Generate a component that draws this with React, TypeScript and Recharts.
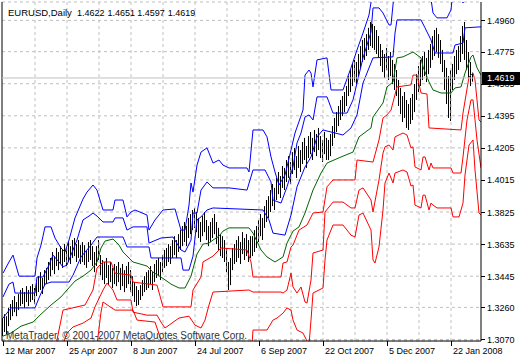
import React from "react";
import { ComposedChart, Bar, Line, XAxis, YAxis, CartesianGrid, ReferenceLine } from "recharts";

const symbolTitle = "EURUSD,Daily";
const lastQuote = [1.4622, 1.4651, 1.4597, 1.4619];
const watermark = "MetaTrader, © 2001-2007 MetaQuotes Software Corp.";

const dateLabels = ["12 Mar 2007", "25 Apr 2007", "8 Jun 2007", "24 Jul 2007", "6 Sep 2007", "22 Oct 2007", "5 Dec 2007", "22 Jan 2008"];
const labelDays = [0, 32, 64, 96, 128, 160, 192, 224];
const gridDays = [16, 32, 48, 64, 80, 96, 112, 128, 144, 160, 176, 192, 208, 224];
const priceTicks = [1.307, 1.326, 1.3445, 1.3635, 1.3825, 1.4015, 1.4205, 1.4395, 1.4585, 1.4775, 1.496];

// daily highs / lows, one per bar
const highs = [
  1.3197, 1.3220, 1.3208, 1.3257, 1.3280, 1.3304, 1.3327, 1.3292, 1.3339, 1.3363,
  1.3375, 1.3351, 1.3386, 1.3363, 1.3386, 1.3398, 1.3375, 1.3422, 1.3445, 1.3469,
  1.3434, 1.3481, 1.3494, 1.3529, 1.3553, 1.3588, 1.3564, 1.3612, 1.3588, 1.3623,
  1.3600, 1.3635, 1.3612, 1.3647, 1.3623, 1.3659, 1.3671, 1.3635, 1.3659, 1.3629,
  1.3647, 1.3629, 1.3600, 1.3647, 1.3659, 1.3623, 1.3588, 1.3623, 1.3659, 1.3570,
  1.3541, 1.3529, 1.3553, 1.3511, 1.3529, 1.3494, 1.3517, 1.3505, 1.3529, 1.3494,
  1.3517, 1.3481, 1.3505, 1.3529, 1.3481, 1.3445, 1.3410, 1.3386, 1.3363, 1.3392,
  1.3422, 1.3445, 1.3469, 1.3481, 1.3505, 1.3469, 1.3517, 1.3541, 1.3553, 1.3529,
  1.3570, 1.3600, 1.3612, 1.3635, 1.3623, 1.3659, 1.3682, 1.3659, 1.3694, 1.3718,
  1.3742, 1.3766, 1.3742, 1.3790, 1.3813, 1.3837, 1.3849, 1.3825, 1.3790, 1.3766,
  1.3801, 1.3825, 1.3778, 1.3742, 1.3766, 1.3790, 1.3813, 1.3766, 1.3731, 1.3694,
  1.3682, 1.3659, 1.3612, 1.3529, 1.3553, 1.3612, 1.3635, 1.3659, 1.3682, 1.3647,
  1.3706, 1.3671, 1.3694, 1.3659, 1.3682, 1.3682, 1.3718, 1.3742, 1.3778, 1.3813,
  1.3790, 1.3860, 1.3896, 1.3919, 1.3955, 1.3991, 1.3968, 1.4027, 1.4062, 1.4038,
  1.4097, 1.4086, 1.4133, 1.4156, 1.4121, 1.4180, 1.4205, 1.4156, 1.4216, 1.4192,
  1.4240, 1.4264, 1.4216, 1.4275, 1.4299, 1.4264, 1.4311, 1.4287, 1.4323, 1.4275,
  1.4252, 1.4299, 1.4264, 1.4252, 1.4287, 1.4334, 1.4382, 1.4417, 1.4453, 1.4489,
  1.4512, 1.4536, 1.4571, 1.4630, 1.4666, 1.4702, 1.4726, 1.4714, 1.4761, 1.4808,
  1.4844, 1.4856, 1.4879, 1.4916, 1.4951, 1.4939, 1.4927, 1.4903, 1.4867, 1.4820,
  1.4785, 1.4761, 1.4797, 1.4749, 1.4773, 1.4726, 1.4702, 1.4666, 1.4607, 1.4560,
  1.4512, 1.4536, 1.4489, 1.4465, 1.4501, 1.4524, 1.4583, 1.4642, 1.4690, 1.4726,
  1.4749, 1.4773, 1.4738, 1.4785, 1.4820, 1.4867, 1.4903, 1.4916, 1.4879, 1.4844,
  1.4785, 1.4726, 1.4679, 1.4630, 1.4666, 1.4702, 1.4749, 1.4785, 1.4808, 1.4867,
  1.4927, 1.4951, 1.4844, 1.4773, 1.4714, 1.4651,
];
const lows = [
  1.3090, 1.3114, 1.3102, 1.3149, 1.3185, 1.3208, 1.3232, 1.3208, 1.3244, 1.3268,
  1.3280, 1.3257, 1.3292, 1.3268, 1.3292, 1.3304, 1.3280, 1.3327, 1.3351, 1.3363,
  1.3339, 1.3386, 1.3398, 1.3422, 1.3445, 1.3481, 1.3457, 1.3505, 1.3481, 1.3517,
  1.3494, 1.3529, 1.3505, 1.3529, 1.3517, 1.3553, 1.3564, 1.3529, 1.3553, 1.3517,
  1.3529, 1.3511, 1.3494, 1.3529, 1.3541, 1.3505, 1.3469, 1.3505, 1.3541, 1.3451,
  1.3422, 1.3398, 1.3434, 1.3392, 1.3410, 1.3375, 1.3398, 1.3386, 1.3410, 1.3363,
  1.3386, 1.3351, 1.3375, 1.3398, 1.3351, 1.3327, 1.3292, 1.3268, 1.3274, 1.3304,
  1.3327, 1.3351, 1.3363, 1.3375, 1.3398, 1.3363, 1.3410, 1.3434, 1.3445, 1.3422,
  1.3469, 1.3494, 1.3505, 1.3529, 1.3517, 1.3553, 1.3570, 1.3553, 1.3588, 1.3600,
  1.3623, 1.3647, 1.3623, 1.3671, 1.3694, 1.3718, 1.3731, 1.3706, 1.3671, 1.3647,
  1.3682, 1.3706, 1.3659, 1.3623, 1.3647, 1.3671, 1.3694, 1.3635, 1.3600, 1.3564,
  1.3553, 1.3529, 1.3469, 1.3363, 1.3392, 1.3481, 1.3517, 1.3529, 1.3553, 1.3517,
  1.3576, 1.3541, 1.3564, 1.3529, 1.3553, 1.3564, 1.3588, 1.3612, 1.3647, 1.3682,
  1.3659, 1.3731, 1.3766, 1.3790, 1.3825, 1.3860, 1.3837, 1.3896, 1.3931, 1.3908,
  1.3968, 1.3955, 1.4003, 1.4027, 1.3991, 1.4050, 1.4074, 1.4027, 1.4086, 1.4062,
  1.4109, 1.4133, 1.4086, 1.4145, 1.4168, 1.4133, 1.4180, 1.4156, 1.4192, 1.4145,
  1.4121, 1.4168, 1.4133, 1.4133, 1.4156, 1.4216, 1.4264, 1.4299, 1.4334, 1.4370,
  1.4393, 1.4417, 1.4453, 1.4512, 1.4536, 1.4571, 1.4595, 1.4583, 1.4630, 1.4679,
  1.4714, 1.4726, 1.4749, 1.4785, 1.4808, 1.4797, 1.4785, 1.4761, 1.4738, 1.4690,
  1.4654, 1.4619, 1.4666, 1.4607, 1.4630, 1.4583, 1.4548, 1.4512, 1.4453, 1.4405,
  1.4358, 1.4382, 1.4323, 1.4311, 1.4346, 1.4370, 1.4417, 1.4489, 1.4536, 1.4571,
  1.4607, 1.4630, 1.4595, 1.4642, 1.4679, 1.4726, 1.4749, 1.4773, 1.4738, 1.4702,
  1.4654, 1.4548, 1.4465, 1.4382, 1.4364, 1.4548, 1.4607, 1.4642, 1.4666, 1.4714,
  1.4761, 1.4726, 1.4666, 1.4619, 1.4571, 1.4597,
];

// indicator vertices: [bar index, price]
const maLine = [
  [0, 1.3090], [4, 1.3108], [9, 1.3149], [15, 1.3173], [19, 1.3220], [24, 1.3274], [29, 1.3322], [32, 1.3363],
  [36, 1.3416], [40, 1.3445], [44, 1.3481], [47, 1.3529], [49, 1.3612], [51, 1.3653], [55, 1.3665], [58, 1.3629],
  [60, 1.3588], [65, 1.3529], [72, 1.3505], [75, 1.3469], [79, 1.3440], [84, 1.3398], [88, 1.3375], [91, 1.3375],
  [94, 1.3445], [97, 1.3576], [100, 1.3635], [103, 1.3641], [105, 1.3659], [108, 1.3682], [110, 1.3712], [113, 1.3731],
  [123, 1.3731], [125, 1.3700], [129, 1.3600], [132, 1.3559], [136, 1.3529], [140, 1.3559], [142, 1.3641], [145, 1.3712],
  [148, 1.3737], [151, 1.3819], [155, 1.3955], [159, 1.4056], [162, 1.4115], [169, 1.4151], [175, 1.4180], [178, 1.4270],
  [184, 1.4323], [185, 1.4388], [190, 1.4471], [192, 1.4566], [195, 1.4595], [197, 1.4738], [200, 1.4744], [204, 1.4767],
  [205, 1.4773], [209, 1.4738], [210, 1.4685], [213, 1.4595], [215, 1.4548], [219, 1.4530], [224, 1.4530], [226, 1.4560],
  [229, 1.4566], [231, 1.4648], [234, 1.4744], [235, 1.4755], [237, 1.4679], [239, 1.4636],
];
const upperBand1 = [
  [0, 1.3463], [3, 1.3529], [5, 1.3570], [6, 1.3529], [8, 1.3445], [16, 1.3445], [17, 1.3553], [19, 1.3629],
  [20, 1.3682], [21, 1.3737], [24, 1.3737], [26, 1.3671], [29, 1.3612], [31, 1.3588], [33, 1.3659], [36, 1.3790],
  [40, 1.3902], [42, 1.3943], [45, 1.3985], [47, 1.3955], [50, 1.3837], [55, 1.3837], [56, 1.3896], [60, 1.3896],
  [62, 1.3796], [64, 1.3825], [66, 1.3837], [72, 1.3807], [73, 1.3718], [76, 1.3778], [80, 1.3837], [86, 1.3843],
  [89, 1.3718], [91, 1.3718], [93, 1.3866], [94, 1.3997], [95, 1.3943], [97, 1.4103], [99, 1.4180], [102, 1.4205],
  [105, 1.4115], [108, 1.4133], [110, 1.4103], [113, 1.4086], [122, 1.4086], [123, 1.4062], [125, 1.4311], [130, 1.4311],
  [132, 1.4270], [134, 1.4151], [136, 1.4062], [138, 1.3985], [141, 1.4044], [144, 1.4192], [146, 1.4293], [150, 1.4429],
  [151, 1.4636], [153, 1.4666], [154, 1.4648], [155, 1.4566], [157, 1.4726], [162, 1.4738], [164, 1.4548], [170, 1.4548],
  [174, 1.4679], [177, 1.4785], [180, 1.4885], [183, 1.4992], [185, 1.5140],
];
const upperBand2 = [
  [0, 1.3322], [3, 1.3398], [5, 1.3410], [6, 1.3345], [16, 1.3345], [17, 1.3440], [20, 1.3440], [23, 1.3511],
  [25, 1.3570], [28, 1.3529], [30, 1.3500], [32, 1.3511], [35, 1.3600], [37, 1.3659], [40, 1.3778], [43, 1.3801],
  [45, 1.3819], [47, 1.3801], [50, 1.3766], [55, 1.3766], [56, 1.3790], [60, 1.3790], [62, 1.3718], [65, 1.3737],
  [72, 1.3737], [73, 1.3641], [79, 1.3671], [85, 1.3677], [89, 1.3600], [91, 1.3588], [94, 1.3659], [95, 1.3819],
  [97, 1.3819], [99, 1.3955], [102, 1.4003], [105, 1.3968], [113, 1.3968], [122, 1.3955], [125, 1.4074], [131, 1.4074],
  [134, 1.4003], [135, 1.3896], [139, 1.3878], [142, 1.3974], [145, 1.4092], [147, 1.4234], [149, 1.4293], [151, 1.4388],
  [153, 1.4400], [155, 1.4370], [157, 1.4507], [162, 1.4507], [165, 1.4411], [172, 1.4411], [175, 1.4489], [177, 1.4589],
  [180, 1.4738], [184, 1.4891], [185, 1.5034], [188, 1.5034], [190, 1.5004], [193, 1.4933], [194, 1.4933], [196, 1.5170],
  [213, 1.5170], [215, 1.5004], [217, 1.4975], [222, 1.4975], [224, 1.5022], [225, 1.5140], [229, 1.5140], [230, 1.5063],
  [231, 1.5140], [239, 1.5229],
];
const upperBand3 = [
  [0, 1.3197], [4, 1.3257], [16, 1.3257], [18, 1.3316], [21, 1.3398], [24, 1.3410], [33, 1.3410], [35, 1.3451],
  [39, 1.3559], [44, 1.3629], [47, 1.3677], [60, 1.3677], [62, 1.3618], [73, 1.3618], [74, 1.3553], [89, 1.3553],
  [90, 1.3481], [93, 1.3481], [95, 1.3564], [97, 1.3778], [99, 1.3796], [102, 1.3837], [105, 1.3849], [130, 1.3837],
  [133, 1.3778], [135, 1.3700], [141, 1.3688], [144, 1.3807], [147, 1.3974], [151, 1.4092], [154, 1.4151], [157, 1.4270],
  [160, 1.4311], [170, 1.4281], [174, 1.4323], [177, 1.4400], [180, 1.4589], [185, 1.4738], [195, 1.4744], [196, 1.4885],
  [197, 1.4963], [209, 1.4963], [211, 1.4916], [214, 1.4844], [216, 1.4767], [225, 1.4767], [226, 1.4814], [230, 1.4826],
  [231, 1.4916], [239, 1.4922],
];
const lowerBand1 = [
  [0, 1.2948], [26, 1.3007], [28, 1.3126], [30, 1.3244], [41, 1.3274], [45, 1.3363], [47, 1.3494], [50, 1.3529],
  [54, 1.3529], [56, 1.3463], [64, 1.3451], [65, 1.3410], [77, 1.3392], [80, 1.3263], [94, 1.3263], [95, 1.3363],
  [99, 1.3440], [100, 1.3529], [105, 1.3564], [109, 1.3612], [122, 1.3600], [124, 1.3529], [125, 1.3440], [139, 1.3440],
  [140, 1.3523], [142, 1.3529], [144, 1.3618], [145, 1.3629], [148, 1.3718], [152, 1.3748], [155, 1.3819], [160, 1.3825],
  [162, 1.3974], [165, 1.4015], [176, 1.4015], [177, 1.4133], [185, 1.4121], [188, 1.4252], [190, 1.4382], [192, 1.4400],
  [194, 1.4429], [197, 1.4566], [204, 1.4578], [205, 1.4636], [207, 1.4636], [209, 1.4530], [212, 1.4524], [213, 1.4323],
  [229, 1.4311], [230, 1.4411], [233, 1.4625], [235, 1.4648], [236, 1.4607], [238, 1.4370], [239, 1.4358],
];
const lowerBand2 = [
  [0, 1.2889], [29, 1.3007], [32, 1.3108], [35, 1.3144], [40, 1.3167], [44, 1.3197], [46, 1.3263], [50, 1.3363],
  [52, 1.3404], [55, 1.3363], [57, 1.3304], [64, 1.3304], [65, 1.3232], [72, 1.3214], [77, 1.3214], [79, 1.3173],
  [81, 1.3138], [88, 1.3197], [93, 1.3208], [96, 1.3155], [99, 1.3138], [101, 1.3185], [103, 1.3274], [105, 1.3351],
  [123, 1.3363], [125, 1.3351], [139, 1.3351], [140, 1.3345], [142, 1.3363], [144, 1.3463], [145, 1.3381], [147, 1.3345],
  [149, 1.3381], [151, 1.3292], [152, 1.3286], [154, 1.3422], [155, 1.3582], [160, 1.3600], [161, 1.3825], [165, 1.3884],
  [170, 1.3884], [174, 1.3849], [176, 1.3849], [178, 1.3955], [180, 1.3968], [184, 1.3896], [185, 1.3825], [188, 1.4015],
  [190, 1.4174], [191, 1.4211], [193, 1.4222], [195, 1.4192], [196, 1.4270], [200, 1.4293], [202, 1.4281], [204, 1.4205],
  [205, 1.4211], [206, 1.4092], [209, 1.4074], [210, 1.4151], [211, 1.4151], [213, 1.4074], [214, 1.4115], [215, 1.4086],
  [224, 1.4086], [225, 1.4056], [229, 1.4056], [230, 1.4151], [232, 1.4370], [234, 1.4489], [235, 1.4489], [237, 1.4252],
  [239, 1.4086],
];
const lowerBand3 = [
  [0, 1.2830], [44, 1.2889], [47, 1.3037], [49, 1.3232], [50, 1.3292], [53, 1.3268], [56, 1.3244], [65, 1.3244],
  [67, 1.3185], [76, 1.3173], [79, 1.3067], [84, 1.3020], [121, 1.2830], [124, 1.2948], [125, 1.3126], [132, 1.3126],
  [135, 1.3185], [137, 1.3197], [140, 1.3226], [142, 1.3257], [144, 1.3244], [145, 1.3185], [147, 1.3126], [150, 1.3108],
  [153, 1.3037], [154, 1.3185], [155, 1.3345], [160, 1.3375], [161, 1.3541], [162, 1.3659], [165, 1.3748], [170, 1.3748],
  [174, 1.3688], [176, 1.3677], [178, 1.3807], [180, 1.3819], [184, 1.3718], [185, 1.3541], [186, 1.3523], [188, 1.3618],
  [190, 1.3837], [191, 1.3997], [193, 1.4056], [195, 1.3997], [196, 1.4056], [200, 1.4074], [202, 1.4062], [204, 1.3979],
  [205, 1.3985], [206, 1.3866], [209, 1.3849], [210, 1.3925], [211, 1.3925], [213, 1.3837], [214, 1.3878], [215, 1.3866],
  [217, 1.3849], [224, 1.3849], [225, 1.3796], [228, 1.3796], [230, 1.3878], [231, 1.4044], [233, 1.4222], [235, 1.4252],
  [236, 1.4074], [238, 1.3819], [239, 1.3807],
];

const LAST_SLOT = 239;
const FONT = '"Liberation Sans", Arial, sans-serif';
const BLUE = "#0000ff";
const RED = "#ff0000";
const GREEN = "#006400";
const GRID = "#c0c0c0";

const indicatorSeries = [
  { key: "up1", points: upperBand1, color: BLUE },
  { key: "up2", points: upperBand2, color: BLUE },
  { key: "up3", points: upperBand3, color: BLUE },
  { key: "ma", points: maLine, color: GREEN },
  { key: "lo1", points: lowerBand1, color: RED },
  { key: "lo2", points: lowerBand2, color: RED },
  { key: "lo3", points: lowerBand3, color: RED },
];

const rows: any[] = Array.from({ length: LAST_SLOT + 1 }, (_, i) => ({
  i,
  high: highs[i] ?? null,
  low: lows[i] ?? null,
}));
indicatorSeries.forEach(({ key, points }) => {
  points.forEach(([i, v]) => {
    rows[i][key] = v;
  });
});

function HighLowBar(props: any) {
  const { x, y, width, height } = props;
  if (![x, y, width, height].every(Number.isFinite)) return null;
  const cx = Math.floor(x + width / 2);
  const top = Math.min(y, y + height);
  return <rect x={cx} y={top} width={1} height={Math.max(Math.abs(height), 1)} fill="#000" />;
}

function DateTick({ x, y, payload }: any) {
  const k = labelDays.indexOf(payload.value);
  if (k < 0) return null;
  const px = Math.round(x) + 0.5;
  return (
    <g>
      <line x1={px} x2={px} y1={y} y2={y + 5} stroke="#000" />
      <text x={px + 1.5} y={y + 13} fontSize={9} fontFamily={FONT} fill="#000" textAnchor="start">
        {dateLabels[k]}
      </text>
    </g>
  );
}

function PriceTick({ x, y, payload }: any) {
  return (
    <g>
      <line x1={x} x2={x + 4} y1={Math.round(y) + 0.5} y2={Math.round(y) + 0.5} stroke="#000" />
      <text x={x + 6} y={y + 3.5} fontSize={9} fontFamily={FONT} fill="#000" textAnchor="start">
        {payload.value.toFixed(4)}
      </text>
    </g>
  );
}

function CloseTag({ viewBox }: any) {
  if (!viewBox) return null;
  const left = viewBox.x + viewBox.width + 1;
  const mid = viewBox.y;
  return (
    <g>
      <rect x={left} y={Math.round(mid) - 6} width={38} height={13} fill="#000" />
      <text x={left + 5} y={mid + 3.5} fontSize={9} fontFamily={FONT} fill="#fff">
        {lastQuote[3].toFixed(4)}
      </text>
    </g>
  );
}

export default function App() {
  return (
    <div style={{ position: "fixed", left: 0, top: 0, width: 520, height: 360, background: "#fff" }}>
      <ComposedChart width={520} height={360} data={rows} margin={{ top: 2, right: 0, bottom: 0, left: 2 }}>
        <CartesianGrid vertical={false} stroke={GRID} strokeDasharray="3 3" />
        {gridDays.map((d) => (
          <ReferenceLine key={d} x={d} stroke={GRID} strokeDasharray="3 3" />
        ))}
        <XAxis
          dataKey="i"
          type="number"
          domain={[-0.5, LAST_SLOT]}
          allowDataOverflow
          ticks={[...labelDays, ...gridDays.filter((d) => !labelDays.includes(d))]}
          interval={0}
          tick={<DateTick />}
          tickLine={false}
          tickSize={0}
          tickMargin={0}
          axisLine={{ stroke: "#000" }}
          height={19}
        />
        <YAxis
          orientation="right"
          domain={[1.3061, 1.5069]}
          allowDataOverflow
          ticks={priceTicks}
          interval={0}
          tick={<PriceTick />}
          tickLine={false}
          tickSize={0}
          tickMargin={0}
          axisLine={{ stroke: "#000" }}
          width={39}
        />
        <ReferenceLine x={-0.5} stroke="#000" />
        <Bar
          dataKey={(d: any) => (d.high == null ? undefined : [d.low, d.high])}
          barSize={1}
          shape={<HighLowBar />}
          isAnimationActive={false}
        />
        {indicatorSeries.map((s) => (
          <Line
            key={s.key}
            dataKey={s.key}
            stroke={s.color}
            strokeWidth={1}
            dot={false}
            activeDot={false}
            connectNulls
            type="linear"
            isAnimationActive={false}
          />
        ))}
        <ReferenceLine y={lastQuote[3]} stroke={GRID} label={<CloseTag />} />
      </ComposedChart>
      <svg width={520} height={360} style={{ position: "absolute", left: 0, top: 0, pointerEvents: "none" }}>
        <text x={8} y={16} fontSize={9.5} fontFamily={FONT} fill="#000">
          {symbolTitle}
          {lastQuote.map((q, k) => (
            <tspan key={k} dx={k === 0 ? 5 : 3} fontSize={9}>
              {q.toFixed(4)}
            </tspan>
          ))}
        </text>
        <text x={6} y={339} fontSize={10} fontFamily={FONT} fill="#333">
          {watermark}
        </text>
      </svg>
    </div>
  );
}
